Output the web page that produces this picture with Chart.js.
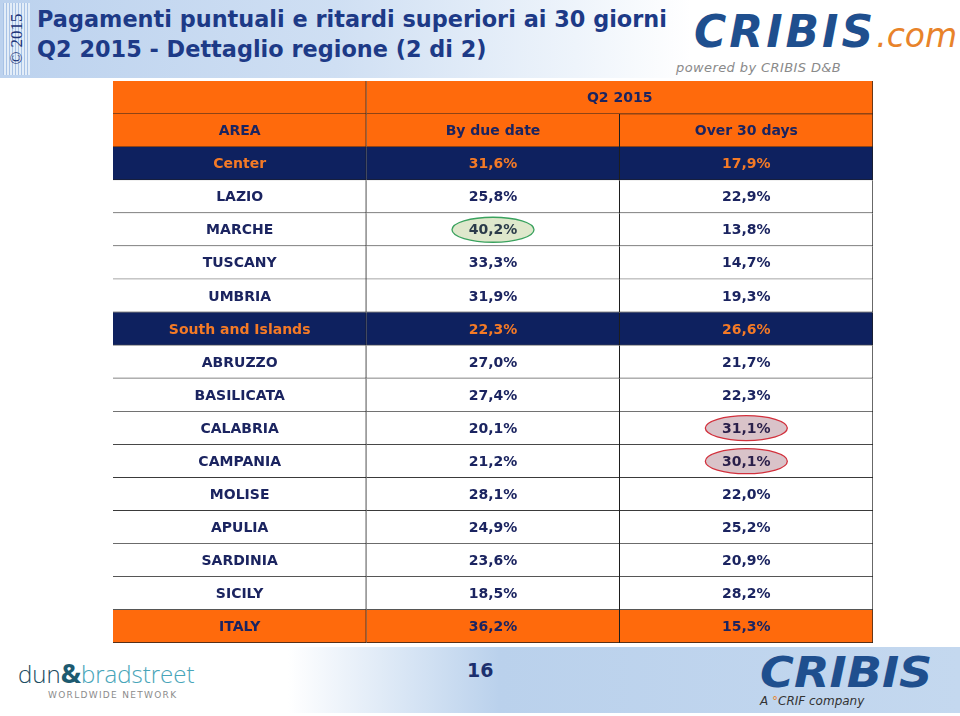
<!DOCTYPE html>
<html>
<head>
<meta charset="utf-8">
<script src="https://cdn.jsdelivr.net/npm/chart.js@4.4.0/dist/chart.umd.min.js"></script>
<style>
  html,body{margin:0;padding:0;background:#fff;}
  #page{position:relative;width:960px;height:716px;overflow:hidden;font-family:"DejaVu Sans",Verdana,sans-serif;}
  #topband{position:absolute;left:0;top:0;width:960px;height:78px;
    background:linear-gradient(to right,#bcd2ee 0%,#cfdff3 35%,#eef4fb 60%,#ffffff 72%);}
  #copy{position:absolute;left:3px;top:3px;width:27px;height:72px;
    background:repeating-linear-gradient(to right,#a9c3e6 0px,#a9c3e6 1px,#e3edf8 1px,#e3edf8 3px);}
  #copy span{position:absolute;left:50%;top:50%;transform:translate(-50%,-50%) rotate(-90deg);
    font-family:"Liberation Serif","DejaVu Serif",serif;font-size:17px;color:#1b3277;white-space:nowrap;}
  .title{position:absolute;left:37px;font-weight:bold;font-size:22.4px;color:#1d3a87;white-space:nowrap;}
  #logo1{position:absolute;left:694px;top:6px;font-style:italic;font-weight:bold;font-size:44px;
    color:#1f4f8e;white-space:nowrap;font-family:"DejaVu Sans",sans-serif;}
  #logo1 .cr{letter-spacing:3px;}
  #logo1 .com{color:#e8832a;font-weight:normal;font-size:33px;}
  #powered{position:absolute;left:676px;top:60px;font-style:italic;font-size:13px;color:#8a8a8a;white-space:nowrap;letter-spacing:0.4px;}
  #botband{position:absolute;left:0;top:647px;width:960px;height:66px;
    background:linear-gradient(to right,#ffffff 0%,#ffffff 30%,#d9e6f5 42%,#bad1ec 52%,#c4d8ef 100%);}
  #pagenum{position:absolute;left:467px;top:659px;font-weight:bold;font-size:19px;color:#1b2f6e;}
  #dnb{position:absolute;left:18px;top:654px;font-size:24px;white-space:nowrap;color:#48a5b9;font-family:"Open Sans","DejaVu Sans",sans-serif;font-weight:300;}
  #dnb .dun{color:#1d4d62;}
  #dnb .amp{color:#1d5a70;font-weight:bold;font-size:27px;}
  #wwn{position:absolute;left:48px;top:690px;font-size:9px;letter-spacing:1.3px;color:#8b8b8b;white-space:nowrap;}
  #logo2{position:absolute;left:760px;top:648px;font-style:italic;font-weight:bold;font-size:42px;color:#1f4f8e;
    transform-origin:0 0;transform:scaleX(1.1);}
  #crif{position:absolute;left:760px;top:694px;font-style:italic;font-size:12px;color:#333;white-space:nowrap;}
  #chartBox{position:absolute;left:113px;top:81px;}
</style>
</head>
<body>
<div id="page">
  <div id="topband"></div>
  <div id="copy"><span>© 2015</span></div>
  <div class="title" style="top:6px">Pagamenti puntuali e ritardi superiori ai 30 giorni</div>
  <div class="title" style="top:36px">Q2 2015 - Dettaglio regione (2 di 2)</div>
  <div id="logo1"><span class="cr">CRIBIS</span><span class="com">.com</span></div>
  <div id="powered">powered by CRIBIS D&amp;B</div>
  <div id="botband"></div>
  <div id="dnb"><span class="dun">dun</span><span class="amp">&amp;</span>bradstreet</div>
  <div id="wwn">WORLDWIDE NETWORK</div>
  <div id="pagenum">16</div>
  <div id="logo2">CRIBIS</div>
  <div id="crif">A <span style="color:#e8832a">°</span>CRIF company</div>
  <div id="chartBox"><canvas id="tableChart" width="760" height="562"></canvas></div>
</div>
<script>
var periodLabel = "Q2 2015";
var columnLabels = ["AREA", "By due date", "Over 30 days"];
var areas = ["Center", "LAZIO", "MARCHE", "TUSCANY", "UMBRIA", "South and Islands",
  "ABRUZZO", "BASILICATA", "CALABRIA", "CAMPANIA", "MOLISE", "APULIA", "SARDINIA", "SICILY", "ITALY"];
var byDueDate = [31.6, 25.8, 40.2, 33.3, 31.9, 22.3, 27.0, 27.4, 20.1, 21.2, 28.1, 24.9, 23.6, 18.5, 36.2];
var over30Days = [17.9, 22.9, 13.8, 14.7, 19.3, 26.6, 21.7, 22.3, 31.1, 30.1, 22.0, 25.2, 20.9, 28.2, 15.3];
var macroAreas = ["Center", "South and Islands"];
var totalArea = "ITALY";
var goodMarks = [["MARCHE", 1]];
var badMarks = [["CALABRIA", 2], ["CAMPANIA", 2]];

var ORANGE = "#ff6a0c", NAVY = "#0e215f", TEXT = "#1b2460";

// rows: 2 header rows then one row per area
var rowLabels = ["", "AREA"].concat(areas);

function rowColor(i){
  if (i < 2) return ORANGE;
  var a = areas[i-2];
  if (macroAreas.indexOf(a) >= 0) return NAVY;
  if (a === totalArea) return ORANGE;
  return "#ffffff";
}
function pct(v){ return v.toFixed(1).replace(".", ",") + "%"; }

var colors = rowLabels.map(function(l, i){ return rowColor(i); });
var col0 = rowLabels.map(function(){ return [0, 1]; });
var col1 = rowLabels.map(function(l, i){ return i === 0 ? [1, 3] : [1, 2]; });
var col2 = rowLabels.map(function(l, i){ return i === 0 ? null : [2, 3]; });

function cellDataset(data){
  return {
    data: data,
    backgroundColor: colors,
    borderColor: "#1e1e1e",
    borderWidth: {top: 0, left: 0, right: 1, bottom: 1},
    borderSkipped: false,
    barPercentage: 1,
    categoryPercentage: 1,
    grouped: false
  };
}

// FILLS TEXT AND MARKS IN THE CELLS
var cellText = {
  id: "cellText",
  afterDatasetsDraw: function(chart){
    var ctx = chart.ctx, xs = chart.scales.x, ys = chart.scales.y;
    function cx(c){ return xs.getPixelForValue(c + 0.5); }
    var marked = {};
    function ellipse(row, col, fill, stroke){
      var y = ys.getPixelForValue(row + 2);
      marked[row + "_" + col] = true;
      ctx.save();
      ctx.beginPath();
      ctx.ellipse(cx(col), y, 41, 12.5, 0, 0, Math.PI * 2);
      ctx.fillStyle = fill; ctx.fill();
      ctx.lineWidth = 1.3; ctx.strokeStyle = stroke; ctx.stroke();
      ctx.restore();
    }
    goodMarks.forEach(function(m){ ellipse(areas.indexOf(m[0]), m[1], "#dfe8cc", "#3aa25e"); });
    badMarks.forEach(function(m){ ellipse(areas.indexOf(m[0]), m[1], "#d9c3c9", "#d2303c"); });

    ctx.save();
    ctx.font = "bold 14px 'DejaVu Sans', Verdana, sans-serif";
    ctx.textAlign = "center";
    ctx.textBaseline = "middle";
    ctx.fillStyle = TEXT;
    ctx.fillText(periodLabel, xs.getPixelForValue(2), ys.getPixelForValue(0) + 1);
    columnLabels.forEach(function(t, c){ ctx.fillText(t, cx(c), ys.getPixelForValue(1) + 1); });
    areas.forEach(function(a, i){
      var y = ys.getPixelForValue(i + 2) + 1;
      var base = macroAreas.indexOf(a) >= 0 ? "#f47a26" : TEXT;
      ctx.fillStyle = base;
      ctx.fillText(a, cx(0), y);
      ctx.fillStyle = marked[i + "_1"] ? "#2b3b4a" : base;
      ctx.fillText(pct(byDueDate[i]), cx(1), y);
      ctx.fillStyle = marked[i + "_2"] ? "#2a1f4a" : base;
      ctx.fillText(pct(over30Days[i]), cx(2), y);
    });
    ctx.restore();
  }
};

var tableChart = new Chart(document.getElementById("tableChart"), {
  type: "bar",
  data: {labels: rowLabels, datasets: [cellDataset(col0), cellDataset(col1), cellDataset(col2)]},
  options: {
    indexAxis: "y",
    responsive: false,
    animation: false,
    layout: {padding: 0},
    plugins: {legend: {display: false}, tooltip: {enabled: false}},
    scales: {
      x: {type: "linear", min: 0, max: 3, display: false},
      y: {type: "category", display: false}
    }
  },
  plugins: [cellText]
});
</script>
</body>
</html>
